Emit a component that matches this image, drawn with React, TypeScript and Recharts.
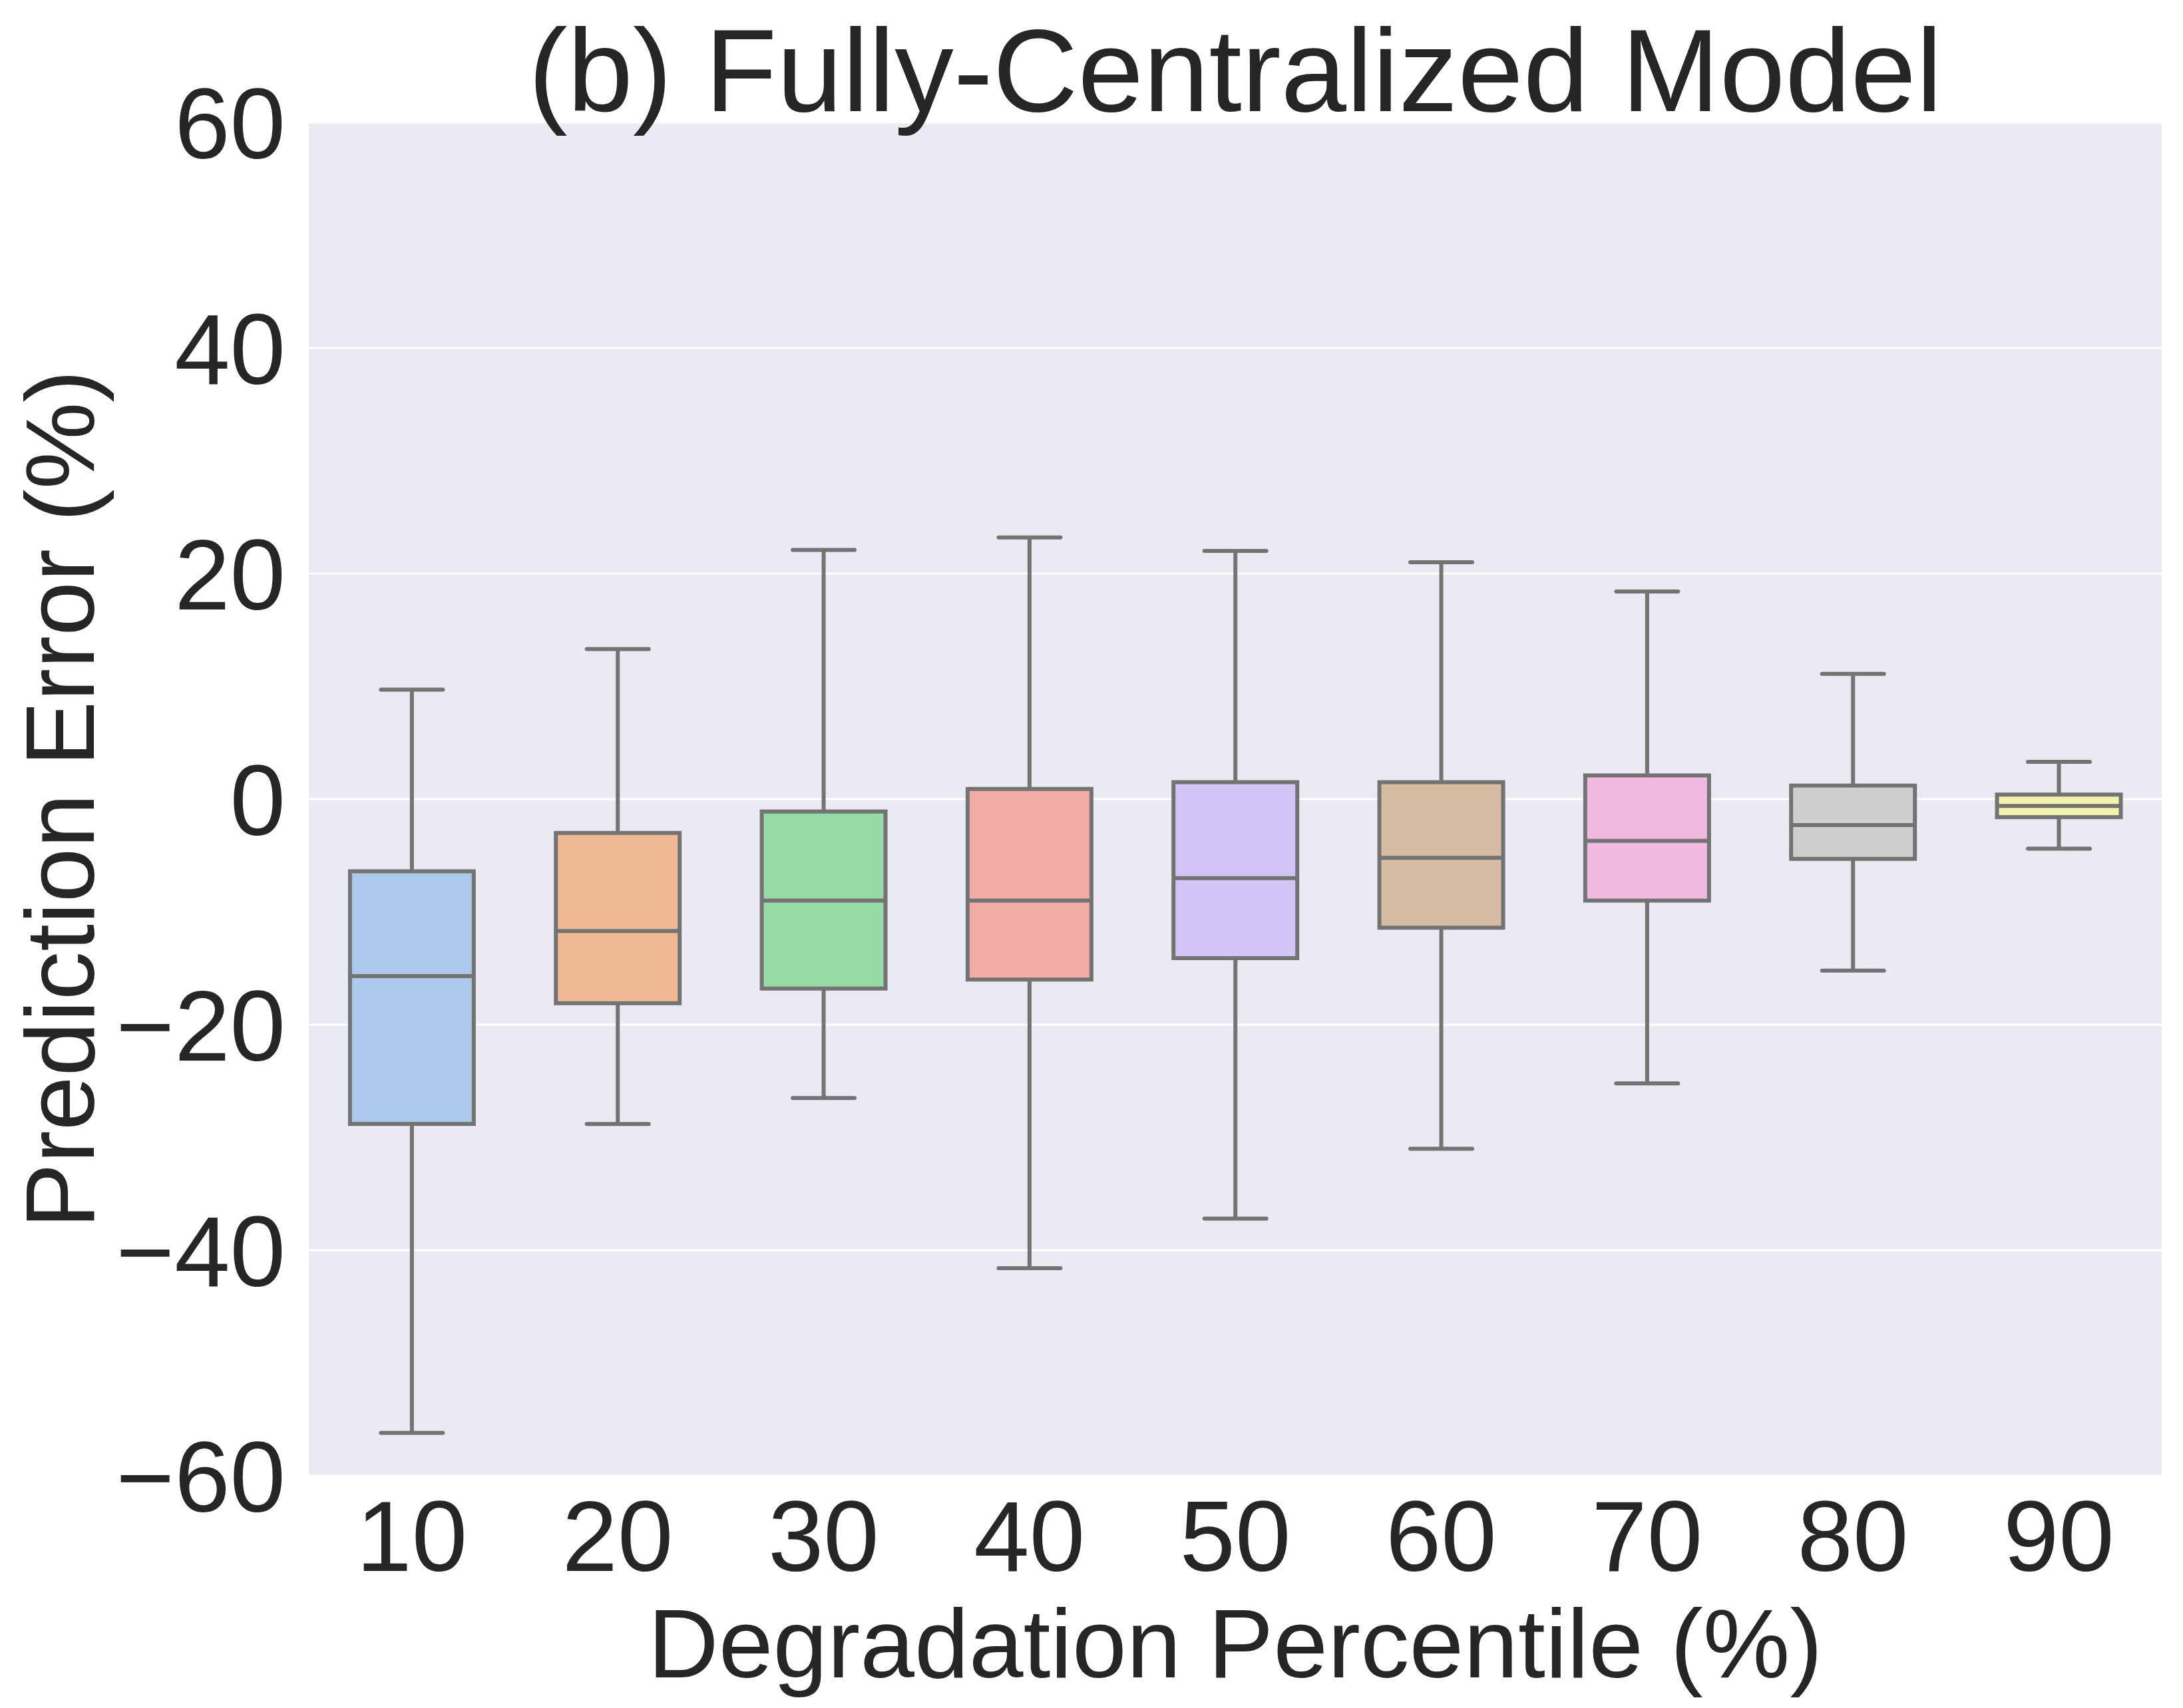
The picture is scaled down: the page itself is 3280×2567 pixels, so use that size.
import React from 'react'
import { ComposedChart, Bar, XAxis, YAxis, CartesianGrid, Label } from 'recharts'

const W = 3280
const H = 2567

const categories = ['10', '20', '30', '40', '50', '60', '70', '80', '90']
const whiskerLow = [-56.2, -28.8, -26.5, -41.6, -37.2, -31.0, -25.2, -15.2, -4.4]
const q1 = [-28.8, -18.1, -16.8, -16.0, -14.1, -11.4, -9.0, -5.3, -1.6]
const median = [-15.7, -11.7, -9.0, -9.0, -7.0, -5.2, -3.7, -2.3, -0.6]
const q3 = [-6.4, -3.0, -1.1, 0.9, 1.5, 1.5, 2.1, 1.2, 0.4]
const whiskerHigh = [9.7, 13.3, 22.1, 23.2, 22.0, 21.0, 18.4, 11.1, 3.3]
const yTicks = [-60, -40, -20, 0, 20, 40, 60]

const BOX_COLORS = [
  '#abc9ea', '#efb792', '#98daa7', '#f3aba8', '#d3c4f7',
  '#d6bba3', '#f1b9e0', '#cfcfcf', '#f4f3ae',
]
const LINE = '#737373'
const TEXT = '#262626'
const FONT = '"Liberation Sans", Arial, sans-serif'

const data = categories.map((c, i) => ({
  cat: c,
  range: [whiskerLow[i], whiskerHigh[i]],
  lo: whiskerLow[i],
  q1: q1[i],
  med: median[i],
  q3: q3[i],
  hi: whiskerHigh[i],
  color: BOX_COLORS[i],
}))

function BoxShape(props: any) {
  const { x, y, width, height, payload } = props
  if (!payload) return null
  const top = Math.min(y, y + height)
  const bottom = Math.max(y, y + height)
  const span = payload.hi - payload.lo
  // map a value into pixels using the bar's own extent (hi -> top, lo -> bottom)
  const py = (v: number) => top + ((payload.hi - v) / span) * (bottom - top)
  const cx = x + width / 2
  const capHalf = width / 4
  const yQ1 = py(payload.q1)
  const yQ3 = py(payload.q3)
  const yMed = py(payload.med)
  const sw = 6
  return (
    <g>
      <line x1={cx} x2={cx} y1={top} y2={yQ3} stroke={LINE} strokeWidth={sw} />
      <line x1={cx} x2={cx} y1={yQ1} y2={bottom} stroke={LINE} strokeWidth={sw} />
      <line x1={cx - capHalf} x2={cx + capHalf} y1={top} y2={top} stroke={LINE} strokeWidth={sw} strokeLinecap="round" />
      <line x1={cx - capHalf} x2={cx + capHalf} y1={bottom} y2={bottom} stroke={LINE} strokeWidth={sw} strokeLinecap="round" />
      <rect x={x} y={yQ3} width={width} height={yQ1 - yQ3} fill={payload.color} stroke={LINE} strokeWidth={sw} />
      <line x1={x} x2={x + width} y1={yMed} y2={yMed} stroke={LINE} strokeWidth={sw} />
    </g>
  )
}

function XTick(props: any) {
  const { x, y, payload } = props
  return (
    <text x={x} y={y + 135} textAnchor="middle" fontSize={150} fill={TEXT} fontFamily={FONT}>
      {payload.value}
    </text>
  )
}

function YTick(props: any) {
  const { y, payload } = props
  const v = payload.value
  const s = v < 0 ? `\u2212${Math.abs(v)}` : String(v)
  return (
    <text x={429} y={y + 54} textAnchor="end" fontSize={150} fill={TEXT} fontFamily={FONT}>
      {s}
    </text>
  )
}

export default function App() {
  return (
    <div style={{ position: 'absolute', left: 0, top: 0, width: W, height: H, background: '#ffffff' }}>
      <div style={{ position: 'absolute', left: 0, top: 0 }}>
        <ComposedChart
          width={W}
          height={H}
          data={data}
          margin={{ top: 184, right: 32, bottom: 0, left: 0 }}
          barCategoryGap="20%"
        >
          <CartesianGrid fill="#eaeaf2" stroke="#ffffff" strokeWidth={3} vertical={false} horizontalValues={yTicks} />
          <XAxis
            dataKey="cat"
            height={349}
            axisLine={false}
            tickLine={false}
            tick={<XTick />}
            interval={0}
          >
            <Label
              content={(p: any) => {
                const vb = p.viewBox
                return (
                  <text x={vb.x + vb.width / 2} y={vb.y + 303} textAnchor="middle" fontSize={147} fill={TEXT} fontFamily={FONT}>
                    Degradation Percentile (%)
                  </text>
                )
              }}
            />
          </XAxis>
          <YAxis
            width={464}
            domain={[-60, 60]}
            ticks={yTicks}
            axisLine={false}
            tickLine={false}
            tick={<YTick />}
            allowDataOverflow
          >
            <Label
              content={(p: any) => {
                const vb = p.viewBox
                const cy = vb.y + vb.height / 2
                return (
                  <text x={141} y={cy} transform={`rotate(-90, 141, ${cy})`} textAnchor="middle" fontSize={147} fill={TEXT} fontFamily={FONT}>
                    Prediction Error (%)
                  </text>
                )
              }}
            />
          </YAxis>
          <Bar dataKey="range" shape={<BoxShape />} isAnimationActive={false} />
        </ComposedChart>
      </div>
      <svg width={W} height={220} style={{ position: 'absolute', left: 0, top: 0, overflow: 'visible' }}>
        <text x={1856} y={167} textAnchor="middle" fontSize={177} fill={TEXT} fontFamily={FONT}>
          (b) Fully-Centralized Model
        </text>
      </svg>
    </div>
  )
}
